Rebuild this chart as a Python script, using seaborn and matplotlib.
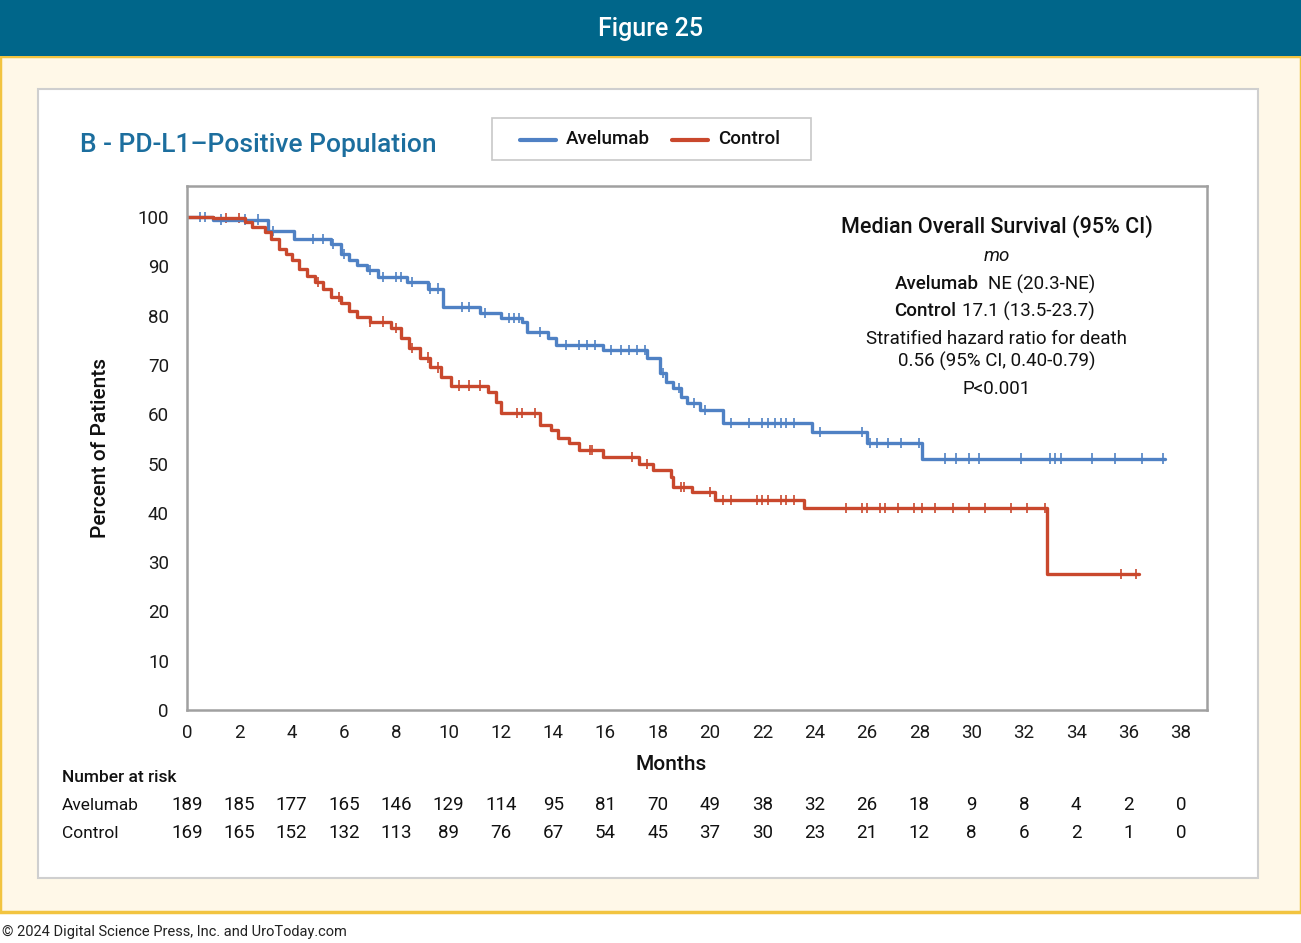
import matplotlib
matplotlib.use("Agg")
import matplotlib.pyplot as plt
import numpy as np
import pandas as pd
import seaborn as sns
from matplotlib.patches import Rectangle

# step curves: event times (months) and survival (%) after each step
avel_times = [0, 1.0, 3.1, 4.1, 5.5, 5.9, 6.2, 6.5, 6.9, 7.3, 8.4, 9.2, 9.8, 11.2, 12.0,
              12.8, 13.0, 13.8, 14.1, 15.9, 17.6, 18.1, 18.3, 18.6, 18.9, 19.1, 19.6,
              20.5, 23.9, 26.0, 28.1]
avel_surv = [100, 99.5, 97.2, 95.5, 94.5, 92.5, 91.2, 90.3, 89.2, 87.8, 86.8, 85.5, 81.7,
             80.5, 79.5, 78.7, 76.7, 75.5, 74.0, 73.0, 71.4, 68.4, 66.5, 65.3, 63.5, 62.3,
             60.9, 58.2, 56.4, 54.2, 51.0]
avel_end = 37.4

ctrl_times = [0, 1.0, 2.2, 2.5, 3.0, 3.2, 3.5, 3.8, 4.0, 4.3, 4.6, 4.9, 5.2, 5.5, 5.9, 6.2,
              6.5, 7.0, 7.8, 8.2, 8.5, 8.9, 9.3, 9.7, 10.1, 11.5, 11.8, 12.0, 13.5, 13.9,
              14.2, 14.6, 15.0, 15.9, 17.3, 17.8, 18.5, 18.6, 19.3, 20.2, 23.6, 32.9]
ctrl_surv = [100, 99.8, 99.0, 98.0, 97.0, 95.5, 93.5, 92.5, 91.3, 89.5, 88.0, 86.8, 85.5,
             83.8, 82.5, 81.0, 79.7, 78.8, 77.5, 75.5, 73.5, 71.5, 69.5, 67.5, 65.8, 64.5,
             62.5, 60.2, 57.8, 56.8, 55.2, 54.2, 52.7, 51.3, 49.9, 48.7, 47.3, 45.2, 44.2,
             42.6, 41.0, 27.6]
ctrl_end = 36.4

# censoring times (months)
avel_censor = [0.5, 0.7, 1.3, 2.2, 2.7, 3.3, 4.8, 5.2, 5.6, 6.0, 7.0, 7.5, 8.0, 8.2, 8.6,
               9.3, 9.6, 10.5, 10.8, 11.4, 12.3, 12.5, 12.7, 13.5, 14.5, 15.0, 15.3, 15.6,
               16.2, 16.6, 16.9, 17.2, 17.5, 18.2, 18.8, 19.4, 19.8, 20.8, 21.5, 22.0, 22.2,
               22.5, 22.7, 22.9, 23.2, 24.2, 25.8, 26.1, 26.4, 26.8, 27.3, 28.0, 29.0, 29.4,
               29.9, 30.3, 31.9, 33.0, 33.2, 33.4, 34.6, 35.5, 36.5, 37.3]
ctrl_censor = [1.5, 2.0, 5.0, 5.8, 7.0, 7.5, 8.0, 8.6, 9.2, 9.6, 10.4, 10.8, 11.2, 12.6,
               12.8, 13.3, 15.4, 15.5, 17.0, 17.6, 18.9, 19.0, 20.0, 20.5, 20.8, 21.8, 22.0,
               22.2, 22.7, 22.9, 23.2, 25.2, 25.8, 26.0, 26.5, 26.7, 27.2, 27.8, 28.1, 28.6,
               29.3, 29.9, 30.5, 31.5, 32.1, 32.8, 35.7, 36.3]

risk_times = list(range(0, 39, 2))
risk_avel = [189, 185, 177, 165, 146, 129, 114, 95, 81, 70, 49, 38, 32, 26, 18, 9, 8, 4, 2, 0]
risk_ctrl = [169, 165, 152, 132, 113, 89, 76, 67, 54, 45, 37, 30, 23, 21, 12, 8, 6, 2, 1, 0]

BLUE = "#4f81c4"
RED = "#c9482d"
W, H = 1301, 943

sns.set_style("white")
plt.rcParams["font.family"] = ["Roboto", "DejaVu Sans"]


def fx(x):
    return x / W


def fy(y):
    return 1 - y / H


def curve_frame(times, surv, end, name):
    return pd.DataFrame({"t": times + [end], "s": surv + [surv[-1]], "arm": name})


def censor_frame(times, surv, cens, name):
    idx = np.searchsorted(times, cens, side="right") - 1
    return pd.DataFrame({"t": cens, "s": np.array(surv)[idx], "arm": name})


fig = plt.figure(figsize=(W / 100, H / 100), dpi=100)
fig.patch.set_facecolor("white")

# page decoration
fig.patches.append(Rectangle((0, fy(912)), 1, fy(56) - fy(912), transform=fig.transFigure,
                             facecolor="#fff8e8", edgecolor="#f2c440", linewidth=2.5, zorder=0))
fig.patches.append(Rectangle((0, fy(56)), 1, fy(0) - fy(56), transform=fig.transFigure,
                             facecolor="#00668a", edgecolor="none", zorder=1))
fig.patches.append(Rectangle((fx(38), fy(878)), fx(1258) - fx(38), fy(89) - fy(878),
                             transform=fig.transFigure, facecolor="white",
                             edgecolor="#cfcfcf", linewidth=1.5, zorder=1))
fig.text(0.5, fy(29), "Figure 25", color="white", fontsize=18, fontweight="medium",
         ha="center", va="center")
fig.text(fx(2), fy(932), "\u00a9 2024 Digital Science Press, Inc. and UroToday.com",
         fontsize=10.5, color="#222222", ha="left", va="center")

ax = fig.add_axes([fx(187), fy(710), fx(1207) - fx(187), fy(186) - fy(710)])
ax.set_zorder(3)

curves = pd.concat([curve_frame(avel_times, avel_surv, avel_end, "Avelumab"),
                    curve_frame(ctrl_times, ctrl_surv, ctrl_end, "Control")])
censors = pd.concat([censor_frame(avel_times, avel_surv, avel_censor, "Avelumab"),
                     censor_frame(ctrl_times, ctrl_surv, ctrl_censor, "Control")])
palette = {"Avelumab": BLUE, "Control": RED}

sns.lineplot(data=curves, x="t", y="s", hue="arm", palette=palette, drawstyle="steps-post",
             linewidth=2.4, estimator=None, sort=False, legend=False, ax=ax)
sns.scatterplot(data=censors, x="t", y="s", hue="arm", palette=palette, marker="|",
                s=55, linewidth=1.2, legend=False, ax=ax)

ax.set_xlim(0, 39)
ax.set_ylim(0, 106.3)
ax.set_xticks(range(0, 39, 2))
ax.set_yticks(range(0, 101, 10))
for sp in ax.spines.values():
    sp.set_color("#a0a0a0")
    sp.set_linewidth(1.8)
ax.tick_params(axis="both", direction="out", length=7, width=1.5, color="#a0a0a0",
               labelsize=13.5, labelcolor="#1a1a1a", pad=3)
ax.tick_params(axis="y", pad=6)
ax.set_xlabel("")
ax.set_ylabel("")

fig.text(fx(101), fy(448), "Percent of Patients", rotation=90, fontsize=15,
         fontweight="medium", ha="center", va="center", color="#111111")
fig.text(fx(671), fy(764), "Months", fontsize=15, fontweight="medium",
         ha="center", va="center", color="#111111")

# panel title
fig.text(fx(80), fy(145), "B - PD-L1\u2013Positive Population", fontsize=19,
         fontweight="medium", color="#1c6e9e", ha="left", va="center")

# legend box
fig.patches.append(Rectangle((fx(492), fy(160)), fx(811) - fx(492), fy(118) - fy(160),
                             transform=fig.transFigure, facecolor="white",
                             edgecolor="#c8c8c8", linewidth=1.2, zorder=2))
for x0, x1, col, lab in [(520, 556, BLUE, "Avelumab"), (672, 708, RED, "Control")]:
    fig.add_artist(plt.Line2D([fx(x0), fx(x1)], [fy(140), fy(140)], color=col,
                              linewidth=3, transform=fig.transFigure, zorder=3))
    fig.text(fx(x1 + 10), fy(139), lab, fontsize=13.5, fontweight="medium",
             ha="left", va="center", color="#111111", zorder=3)

# annotation block
ann = dict(ha="center", va="center", color="#111111", zorder=4)
fig.text(fx(997), fy(227), "Median Overall Survival (95% CI)", fontsize=15.5,
         fontweight="medium", **ann)
fig.text(fx(997), fy(256), "mo", fontsize=13.5, style="italic", **ann)
fig.text(fx(979), fy(284), "Avelumab", fontsize=13.5, fontweight="medium",
         ha="right", va="center", color="#111111")
fig.text(fx(988), fy(284), "NE (20.3-NE)", fontsize=13.5, ha="left", va="center",
         color="#111111")
fig.text(fx(956), fy(311), "Control", fontsize=13.5, fontweight="medium",
         ha="right", va="center", color="#111111")
fig.text(fx(962), fy(311), "17.1 (13.5-23.7)", fontsize=13.5, ha="left", va="center",
         color="#111111")
fig.text(fx(997), fy(339), "Stratified hazard ratio for death", fontsize=13.5, **ann)
fig.text(fx(997), fy(361), "0.56 (95% CI, 0.40-0.79)", fontsize=13.5, **ann)
fig.text(fx(997), fy(389), "P<0.001", fontsize=13.5, **ann)

# number at risk table
fig.text(fx(62), fy(778), "Number at risk", fontsize=12.5, fontweight="medium",
         ha="left", va="center", color="#111111")
trans = matplotlib.transforms.blended_transform_factory(ax.transData, fig.transFigure)
for ypix, lab, vals in [(805, "Avelumab", risk_avel), (833, "Control", risk_ctrl)]:
    fig.text(fx(62), fy(ypix), lab, fontsize=12.5, ha="left", va="center", color="#111111")
    for t, v in zip(risk_times, vals):
        ax.text(t, fy(ypix), str(v), transform=trans, fontsize=13.5, ha="center",
                va="center", color="#111111", clip_on=False)

fig.savefig("out.png", dpi=100, facecolor=fig.get_facecolor())
